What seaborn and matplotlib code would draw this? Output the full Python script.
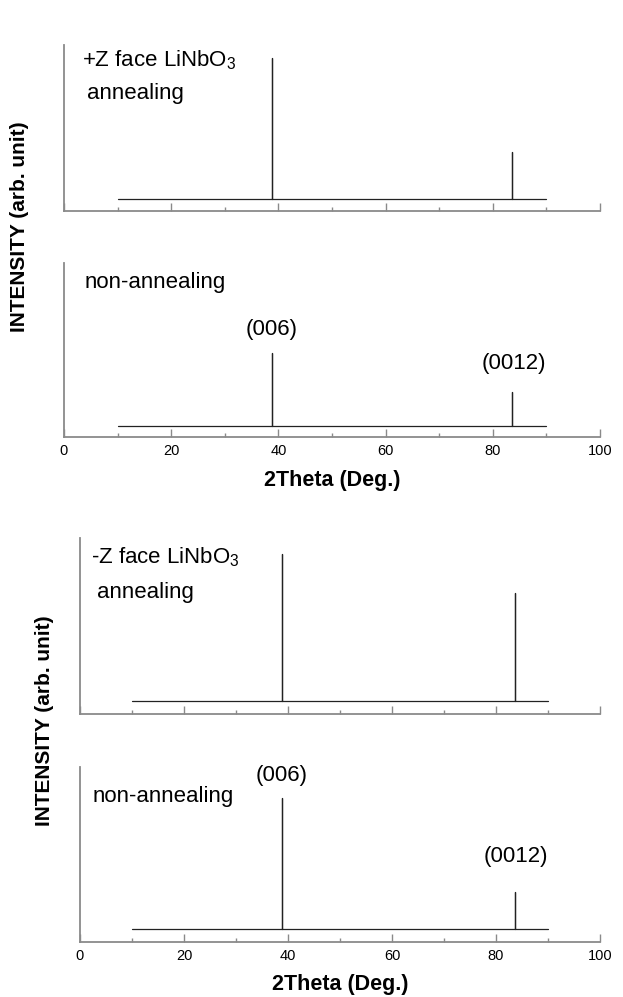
import numpy as np
import pandas as pd
import matplotlib
matplotlib.use("Agg")
import matplotlib.pyplot as plt
import seaborn as sns
from matplotlib.ticker import MultipleLocator

sns.set_style("ticks")
plt.rcParams['font.family'] = ['Liberation Sans', 'DejaVu Sans']
plt.rcParams['mathtext.fontset'] = 'custom'
plt.rcParams['mathtext.rm'] = 'Liberation Sans'
plt.rcParams['text.color'] = 'black'
plt.rcParams['axes.labelcolor'] = 'black'

# 数据：XRD 衍射峰 (2θ, 度) 与强度 (任意单位)
scan_range = [10, 90]
peak_2theta = [38.9, 83.6]
peak_labels = ['(006)', '(0012)']

# +Z 面
plusZ_anneal_base = 7.2
plusZ_anneal_peaks = [92.0, 35.5]
plusZ_non_base = 6.3
plusZ_non_peaks = [48.0, 26.0]

# -Z 面
minusZ_anneal_base = 7.4
minusZ_anneal_peaks = [91.0, 69.0]
minusZ_non_base = 7.4
minusZ_non_peaks = [82.0, 28.6]

x_ticks = [0, 20, 40, 60, 80, 100]


def stick_pattern(base, heights):
    # 基线 + 每个峰的竖线
    xs, ys = [scan_range[0]], [base]
    for p, h in zip(peak_2theta, heights):
        xs += [p, p, p]
        ys += [base, h, base]
    xs.append(scan_range[1])
    ys.append(base)
    return pd.DataFrame({'2theta': xs, 'I': ys})


def setup_ax(ax, show_labels):
    ax.set_xlim(0, 100)
    ax.set_ylim(0, 100)
    sns.despine(ax=ax)
    for s in ['left', 'bottom']:
        ax.spines[s].set_color('#8a8a8a')
        ax.spines[s].set_linewidth(1.3)
    ax.set_yticks([])
    ax.set_xticks(x_ticks)
    ax.xaxis.set_minor_locator(MultipleLocator(10))
    ax.tick_params(axis='x', which='major', direction='in', length=6,
                   width=1.0, color='#8a8a8a', labelcolor='black',
                   labelsize=10.5, pad=5)
    ax.tick_params(axis='x', which='minor', direction='in', length=3,
                   width=1.0, color='#8a8a8a')
    if not show_labels:
        ax.set_xticklabels([])
    ax.set_xlabel('')
    ax.set_ylabel('')


fig = plt.figure(figsize=(6.23, 9.97), dpi=100)

axA = fig.add_axes([0.1027, 0.7884, 0.8604, 0.1665])
axB = fig.add_axes([0.1027, 0.5617, 0.8604, 0.1745])
axC = fig.add_axes([0.1284, 0.2838, 0.8347, 0.1765])
axD = fig.add_axes([0.1284, 0.0552, 0.8347, 0.1755])

panels = [
    (axA, plusZ_anneal_base, plusZ_anneal_peaks, False),
    (axB, plusZ_non_base, plusZ_non_peaks, True),
    (axC, minusZ_anneal_base, minusZ_anneal_peaks, False),
    (axD, minusZ_non_base, minusZ_non_peaks, True),
]
for ax, base, peaks, lab in panels:
    df = stick_pattern(base, peaks)
    sns.lineplot(data=df, x='2theta', y='I', ax=ax, estimator=None,
                 sort=False, color='#222222', linewidth=0.9)
    setup_ax(ax, lab)

fs = 16
tr = lambda ax: ax.get_xaxis_transform()

axA.text(3.4, 0.91, '+Z face LiNbO$_3$', transform=tr(axA), fontsize=fs, va='center')
axA.text(4.3, 0.71, 'annealing', transform=tr(axA), fontsize=fs, va='center')
axB.text(3.9, 0.89, 'non-annealing', transform=tr(axB), fontsize=fs, va='center')
axB.text(38.8, 0.615, peak_labels[0], transform=tr(axB), fontsize=fs, va='center', ha='center')
axB.text(84.0, 0.425, peak_labels[1], transform=tr(axB), fontsize=fs, va='center', ha='center')

axC.text(2.1, 0.892, '-Z face LiNbO$_3$', transform=tr(axC), fontsize=fs, va='center')
axC.text(3.3, 0.693, 'annealing', transform=tr(axC), fontsize=fs, va='center')
axD.text(2.5, 0.829, 'non-annealing', transform=tr(axD), fontsize=fs, va='center')
axD.text(38.8, 0.954, peak_labels[0], transform=tr(axD), fontsize=fs, va='center', ha='center')
axD.text(83.8, 0.486, peak_labels[1], transform=tr(axD), fontsize=fs, va='center', ha='center')

axB.set_xlabel('2Theta (Deg.)', fontsize=15.5, fontweight='bold', labelpad=9)
axD.set_xlabel('2Theta (Deg.)', fontsize=15.5, fontweight='bold', labelpad=8)

fig.text(0.032, 1 - 227 / 997, 'INTENSITY (arb. unit)', rotation=90,
         fontsize=15, fontweight='bold', ha='center', va='center')
fig.text(0.072, 1 - 721 / 997, 'INTENSITY (arb. unit)', rotation=90,
         fontsize=15, fontweight='bold', ha='center', va='center')

fig.savefig('out.png', dpi=100)
